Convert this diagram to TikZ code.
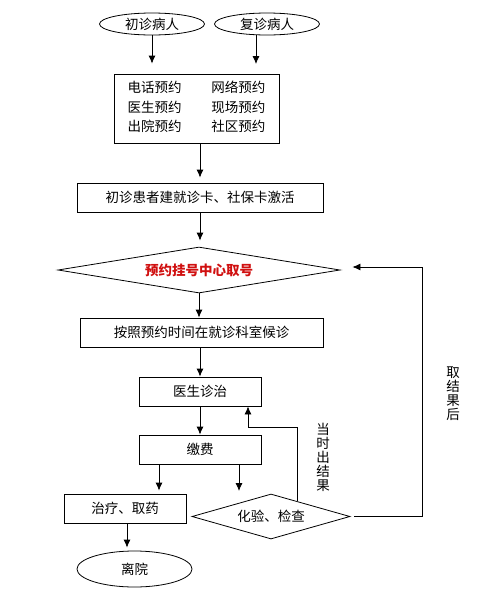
\documentclass[tikz,border=0pt]{standalone}
\usepackage{fontspec}
\setmainfont{Noto Sans CJK SC}
\usetikzlibrary{shapes.geometric,arrows.meta}
\begin{document}
\begin{tikzpicture}[x=1pt,y=-1pt,
  every node/.style={font=\fontsize{13.5}{14}\selectfont},
  stepbox/.style={draw, line width=0.8pt, rectangle, inner sep=0pt},
  oval/.style={draw, line width=0.8pt, ellipse, inner sep=0pt},
  choice/.style={draw, line width=0.8pt, diamond, inner sep=0pt},
  arr/.style={line width=0.8pt, -{Latex[length=8pt,width=7pt]}},
  ln/.style={line width=0.8pt},
  vlabel/.style={align=center, inner sep=0pt, font=\fontsize{13.5}{14}\selectfont}]
\useasboundingbox (0,0) rectangle (497,592);

\node[oval, minimum width=105pt, minimum height=22pt] (p1) at (152,24) {初诊病人};
\node[oval, minimum width=105pt, minimum height=22pt] (p2) at (267,24) {复诊病人};

\node[stepbox, minimum width=165pt, minimum height=69pt] (b1) at (196.5,108.5)
  {\fontsize{13.5}{19.5}\selectfont
   \begin{tabular}{@{}l@{\hspace{30pt}}l@{}}
   电话预约 & 网络预约\\
   医生预约 & 现场预约\\
   出院预约 & 社区预约
   \end{tabular}};

\node[stepbox, minimum width=246pt, minimum height=29pt] (b2) at (200,197.5) {初诊患者建就诊卡、社保卡激活};

\node[choice, aspect=6, minimum width=282pt, minimum height=46pt] (d1) at (199,270)
  {\textcolor[HTML]{D01010}{\bfseries 预约挂号中心取号}};

\node[stepbox, minimum width=243pt, minimum height=29pt] (b3) at (201.5,332.5) {按照预约时间在就诊科室候诊};

\node[stepbox, minimum width=122pt, minimum height=29pt] (b4) at (200,391.5) {医生诊治};
\node[stepbox, minimum width=122pt, minimum height=29pt] (b5) at (200,449.5) {缴费};
\node[stepbox, minimum width=122pt, minimum height=29pt] (b6) at (125,508.5) {治疗、取药};
\node[choice, aspect=3.5, minimum width=158pt, minimum height=45pt] (d2) at (271,516.5) {化验、检查};
\node[oval, minimum width=115pt, minimum height=36pt] (e3) at (134.5,569) {离院};

\node[vlabel] (l1) at (323,457) {当\\时\\出\\结\\果};
\node[vlabel] (l2) at (453,394) {取\\结\\果\\后};

\coordinate (c1) at (297,501.4);
\coordinate (c2) at (239,491);
\coordinate (c3) at (422,267);

% arrows
\draw[arr, shorten >=10pt] (p1.south) -- (p1.south |- b1.north);
\draw[arr, shorten >=10pt] (256,35) -- (256,74);
\draw[arr, shorten >=5pt] (b1.south -| b2.north) -- (b2.north);
\draw[arr, shorten >=6pt] (b2.south) -- (b2.south |- d1.north);
\draw[arr] (d1.south) -- (d1.south |- b3.north);
\draw[arr] (b3.south -| b4.north) -- (b4.north);
\draw[arr] (b4.south) -- (b5.north);
\draw[arr, shorten >=3pt] (b5.south -| 159,0) -- (b6.north -| 159,0);
\draw[arr] (b5.south -| c2) -- (c2);
\draw[arr, shorten >=3pt] (b6.south -| 127,0) -- (e3.north -| 127,0);
\draw[arr] (c1) -- (297,427) -| (b4.south -| 248,0);
\draw[arr, shorten >=12pt] ([xshift=4pt]d2.east) -| (c3) -- (c3 -| d1.east);
\end{tikzpicture}
\end{document}
